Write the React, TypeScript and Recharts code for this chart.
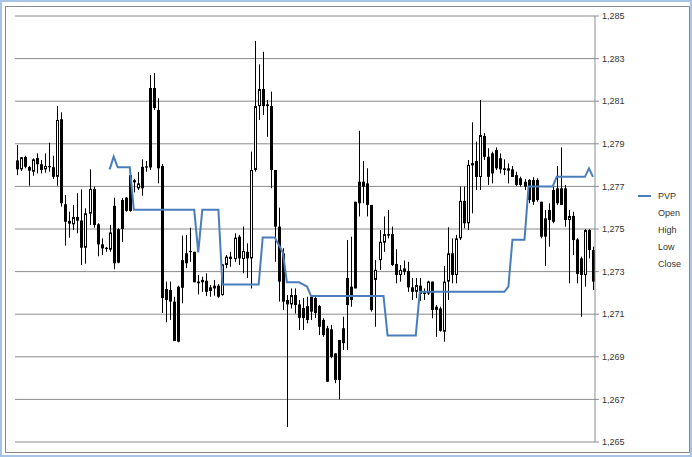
import React from "react";
import { ComposedChart, Bar, Line, XAxis, YAxis, CartesianGrid } from "recharts";

const openVals = [
  1.27822, 1.2778, 1.27838, 1.27791, 1.27769, 1.27833, 1.27804, 1.2778, 1.27796, 1.2779,
  1.27745, 1.28015, 1.27616, 1.27538, 1.27522, 1.27556, 1.2754, 1.27412, 1.27572, 1.27688,
  1.27522, 1.27428, 1.27412, 1.27403, 1.27609, 1.27499, 1.27636, 1.27647, 1.27753, 1.27729,
  1.27691, 1.27792, 1.27794, 1.28162, 1.28162, 1.28059, 1.27796, 1.27218, 1.27214, 1.27159,
  1.27229, 1.27354, 1.27386, 1.27392, 1.27393, 1.27253, 1.2725, 1.27257, 1.27226, 1.27221,
  1.27234, 1.2719, 1.27331, 1.27359, 1.27359, 1.27464, 1.27359, 1.27393, 1.27362, 1.27777,
  1.28077, 1.28157, 1.28085, 1.28077, 1.27777, 1.27511, 1.27386, 1.27167, 1.27146, 1.2719,
  1.27146, 1.27129, 1.27138, 1.27181, 1.27176, 1.27138, 1.27073, 1.27034, 1.27029, 1.26916,
  1.26979, 1.27034, 1.2727, 1.27229, 1.27628, 1.27722, 1.27722, 1.27714, 1.27613, 1.27261,
  1.27354, 1.27436, 1.27476, 1.27476, 1.27336, 1.27284, 1.27299, 1.27303, 1.27226, 1.27205,
  1.27234, 1.27202, 1.27197, 1.27253, 1.27135, 1.27127, 1.27018, 1.27253, 1.27386, 1.27284,
  1.27456, 1.27632, 1.27527, 1.27799, 1.27819, 1.27744, 1.27937, 1.27839, 1.27855, 1.27871,
  1.27832, 1.27785, 1.27785, 1.2778, 1.27753, 1.27738, 1.27722, 1.2773, 1.2773, 1.2773,
  1.27628, 1.2755, 1.27589, 1.27683, 1.27691, 1.27691, 1.27691, 1.27542, 1.27561, 1.27451,
  1.27362, 1.27284, 1.27495, 1.27401,
];

const highVals = [
  1.27894, 1.27838, 1.27844, 1.27796, 1.27832, 1.27855, 1.27824, 1.27855, 1.27905, 1.27844,
  1.28077, 1.28048, 1.2766, 1.27581, 1.27613, 1.27668, 1.27686, 1.27597, 1.2778, 1.27699,
  1.27527, 1.27456, 1.27416, 1.27519, 1.27647, 1.27503, 1.27645, 1.2765, 1.27753, 1.27735,
  1.27768, 1.27827, 1.27819, 1.28223, 1.28232, 1.28114, 1.27805, 1.27253, 1.27253, 1.27182,
  1.27234, 1.27469, 1.27472, 1.27506, 1.27393, 1.27284, 1.27276, 1.27292, 1.27237, 1.27261,
  1.27241, 1.27334, 1.27378, 1.27393, 1.2748, 1.27472, 1.27511, 1.27433, 1.27863, 1.28383,
  1.28273, 1.28332, 1.28106, 1.28145, 1.27777, 1.276, 1.2741, 1.2719, 1.27221, 1.27221,
  1.27167, 1.27176, 1.27182, 1.2719, 1.27185, 1.27143, 1.27081, 1.27045, 1.2705, 1.26916,
  1.26979, 1.27088, 1.27448, 1.27464, 1.27628, 1.27961, 1.27819, 1.27785, 1.27613, 1.27354,
  1.27495, 1.27559, 1.27589, 1.27511, 1.27405, 1.27331, 1.27352, 1.27346, 1.2727, 1.2727,
  1.2727, 1.27221, 1.27257, 1.27253, 1.27143, 1.27135, 1.27326, 1.27508, 1.27456, 1.27472,
  1.27699, 1.27699, 1.27824, 1.28001, 1.2791, 1.28106, 1.2795, 1.27879, 1.27863, 1.27883,
  1.27855, 1.27827, 1.27808, 1.27796, 1.27769, 1.27746, 1.27734, 1.27734, 1.27743, 1.27738,
  1.27628, 1.27589, 1.27621, 1.27699, 1.27796, 1.27883, 1.27707, 1.27589, 1.27581, 1.27456,
  1.2737, 1.27499, 1.27499, 1.27417,
];

const lowVals = [
  1.27753, 1.27772, 1.27785, 1.27703, 1.2775, 1.27761, 1.27761, 1.27764, 1.27769, 1.27735,
  1.27703, 1.27605, 1.27422, 1.27459, 1.27495, 1.2748, 1.27331, 1.27337, 1.27519, 1.27506,
  1.27372, 1.27378, 1.27393, 1.27393, 1.27311, 1.27339, 1.27439, 1.27581, 1.27581, 1.27672,
  1.27683, 1.27656, 1.27769, 1.27777, 1.28059, 1.27714, 1.27106, 1.27062, 1.27073, 1.26974,
  1.26968, 1.27151, 1.27316, 1.27346, 1.2725, 1.27193, 1.27205, 1.27185, 1.27182, 1.27187,
  1.27177, 1.27187, 1.27316, 1.27323, 1.27346, 1.27331, 1.27292, 1.2727, 1.27221, 1.27769,
  1.28012, 1.28035, 1.27933, 1.27691, 1.27346, 1.27159, 1.2712, 1.2657, 1.27127, 1.27103,
  1.27026, 1.27026, 1.27057, 1.27073, 1.27082, 1.27002, 1.26994, 1.26783, 1.26893, 1.26776,
  1.267, 1.26932, 1.26932, 1.27135, 1.27221, 1.27559, 1.27621, 1.27559, 1.27112, 1.27041,
  1.27308, 1.27393, 1.27456, 1.27326, 1.27245, 1.27253, 1.27284, 1.27205, 1.27167, 1.27175,
  1.27163, 1.27167, 1.2719, 1.27081, 1.26994, 1.27018, 1.26971, 1.27167, 1.27245, 1.27245,
  1.27448, 1.27503, 1.27495, 1.27574, 1.27683, 1.27683, 1.27824, 1.27707, 1.27714, 1.27777,
  1.27761, 1.27753, 1.27714, 1.27744, 1.27702, 1.27699, 1.27683, 1.27621, 1.27613, 1.27628,
  1.27456, 1.27326, 1.27417, 1.27527, 1.27613, 1.27613, 1.27511, 1.27245, 1.27378, 1.27245,
  1.27088, 1.27229, 1.27362, 1.27214,
];

const closeVals = [
  1.2778, 1.27837, 1.27792, 1.27774, 1.27827, 1.27804, 1.27777, 1.27796, 1.2779, 1.27745,
  1.28012, 1.27621, 1.27534, 1.27525, 1.27556, 1.27539, 1.27412, 1.27574, 1.27688, 1.27519,
  1.27428, 1.27409, 1.27406, 1.27484, 1.27339, 1.27342, 1.275, 1.27585, 1.27585, 1.27719,
  1.27714, 1.27691, 1.27788, 1.27789, 1.28068, 1.27785, 1.27176, 1.27167, 1.27159, 1.26974,
  1.26971, 1.27224, 1.27339, 1.27397, 1.2725, 1.27245, 1.27261, 1.27205, 1.27209, 1.27234,
  1.27182, 1.27334, 1.2737, 1.2737, 1.27459, 1.27362, 1.27397, 1.27362, 1.27777, 1.28077,
  1.28157, 1.28077, 1.28077, 1.27777, 1.27511, 1.27253, 1.27159, 1.27146, 1.2719, 1.27143,
  1.27083, 1.27082, 1.27073, 1.27112, 1.27106, 1.27041, 1.27002, 1.26783, 1.269, 1.26791,
  1.26791, 1.26964, 1.27143, 1.27167, 1.27221, 1.27621, 1.27699, 1.27613, 1.2712, 1.27308,
  1.2744, 1.27476, 1.27469, 1.27331, 1.27284, 1.27308, 1.27315, 1.27226, 1.27205, 1.27237,
  1.27195, 1.27195, 1.27253, 1.2712, 1.2712, 1.27022, 1.27253, 1.27386, 1.27284, 1.27456,
  1.27632, 1.27527, 1.27801, 1.27809, 1.27744, 1.27941, 1.27839, 1.27745, 1.27761, 1.27785,
  1.2778, 1.27777, 1.27774, 1.27744, 1.27707, 1.27707, 1.27699, 1.27636, 1.27628, 1.27636,
  1.27464, 1.27464, 1.27542, 1.27534, 1.27621, 1.27613, 1.27542, 1.27561, 1.27448, 1.27289,
  1.27284, 1.27495, 1.27401, 1.27253,
];

const pvpVals: (number | null)[] = [
  null, null, null, null, null, null, null, null, null, null,
  null, null, null, null, null, null, null, null, null, null,
  null, null, null, 1.2778, 1.2784, 1.2779, 1.2779, 1.2779, 1.2779, 1.2759,
  1.2759, 1.2759, 1.2759, 1.2759, 1.2759, 1.2759, 1.2759, 1.2759, 1.2759, 1.2759,
  1.2759, 1.2759, 1.2759, 1.2759, 1.2759, 1.2739, 1.2759, 1.2759, 1.2759, 1.2759,
  1.2759, 1.2724, 1.2724, 1.2724, 1.2724, 1.2724, 1.2724, 1.2724, 1.2724, 1.2724,
  1.2724, 1.2746, 1.2746, 1.2746, 1.2746, 1.27425, 1.2739, 1.2725, 1.2725, 1.2725,
  1.2725, 1.2724, 1.2723, 1.27185, 1.27185, 1.27185, 1.27185, 1.27185, 1.27185, 1.27185,
  1.27185, 1.27185, 1.27185, 1.27185, 1.27185, 1.27185, 1.27185, 1.27185, 1.27185, 1.27185,
  1.27185, 1.27185, 1.27, 1.27, 1.27, 1.27, 1.27, 1.27, 1.27, 1.27,
  1.27205, 1.27205, 1.27205, 1.27205, 1.27205, 1.27205, 1.27205, 1.27205, 1.27205, 1.27205,
  1.27205, 1.27205, 1.27205, 1.27205, 1.27205, 1.27205, 1.27205, 1.27205, 1.27205, 1.27205,
  1.27205, 1.27205, 1.2723, 1.2745, 1.2745, 1.2745, 1.2745, 1.277, 1.277, 1.277,
  1.277, 1.277, 1.277, 1.277, 1.27745, 1.27745, 1.27745, 1.27745, 1.27745, 1.27745,
  1.27745, 1.27745, 1.27785, 1.27745,
];

const yTicks = [1.265, 1.267, 1.269, 1.271, 1.273, 1.275, 1.277, 1.279, 1.281, 1.283, 1.285];
const legendItems = ["PVP", "Open", "High", "Low", "Close"];

const data = openVals.map((o, i) => ({
  idx: i,
  open: o,
  high: highVals[i],
  low: lowVals[i],
  close: closeVals[i],
  pvp: pvpVals[i],
}));

const Candle = (props: any) => {
  const { x, y, width, height, payload } = props;
  if (!payload || x == null || y == null) return null;
  const { open, close, high, low } = payload;
  const top = Math.min(y, y + height);
  const h = Math.abs(height);
  const toPx = (v: number) => (high === low ? top : top + ((high - v) / (high - low)) * h);
  const left = Math.round(x + width / 2 - 1.5);
  const yo = toPx(open);
  const yc = toPx(close);
  const bTop = Math.min(yo, yc);
  const bBot = Math.max(yo, yc);
  const up = close >= open;
  const bh = bBot - bTop;
  return (
    <g>
      <line x1={left + 1.5} x2={left + 1.5} y1={top} y2={top + h} stroke="#000" strokeWidth={1} />
      {up && bh > 2 ? (
        <rect x={left + 0.5} y={bTop + 0.5} width={2} height={bh - 1} fill="#fff" stroke="#000" strokeWidth={1} />
      ) : (
        <rect x={left} y={bTop} width={3} height={Math.max(bh, 1.2)} fill="#000" />
      )}
    </g>
  );
};

const fontFamily = "'Liberation Sans', Arial, sans-serif";

export default function App() {
  return (
    <div style={{ position: "absolute", left: 0, top: 0, width: 692, height: 457, background: "#fff" }}>
      <div
        style={{
          position: "absolute",
          left: 0,
          top: 0,
          width: 692,
          height: 457,
          boxSizing: "border-box",
          border: "2px solid #a7c3e6",
        }}
      />
      <div
        style={{
          position: "absolute",
          left: 5,
          top: 6,
          width: 685,
          height: 447,
          boxSizing: "border-box",
          border: "1px solid #8a8a8a",
        }}
      />
      <div style={{ position: "absolute", left: 0, top: 0 }}>
        <ComposedChart width={692} height={457} data={data} margin={{ top: 16, right: 37, bottom: 15, left: 15 }}>
          <CartesianGrid vertical={false} stroke="#8c8c8c" strokeWidth={1} />
          <XAxis dataKey="idx" type="category" hide height={0} />
          <YAxis
            orientation="right"
            width={60}
            domain={[1.265, 1.285]}
            ticks={yTicks}
            allowDataOverflow
            interval={0}
            tickFormatter={(v: number) => v.toFixed(3).replace(".", ",")}
            stroke="#8c8c8c"
            tickSize={4}
            tickMargin={3}
            tick={{ fill: "#333", fontSize: 9, fontFamily }}
          />
          <Bar
            dataKey={(d: any) => [d.low, d.high]}
            barSize={3}
            shape={<Candle />}
            isAnimationActive={false}
          />
          <Line
            dataKey="pvp"
            stroke="#4a7ebb"
            strokeWidth={2}
            dot={false}
            activeDot={false}
            connectNulls={false}
            isAnimationActive={false}
          />
        </ComposedChart>
      </div>
      <div style={{ position: "absolute", left: 638, top: 189, fontFamily, fontSize: 9, color: "#333" }}>
        {legendItems.map((name, i) => (
          <div key={name} style={{ position: "absolute", left: 0, top: i * 17, height: 14, width: 60, whiteSpace: "nowrap" }}>
            {i === 0 ? (
              <svg width={14} height={14} style={{ position: "absolute", left: 0, top: 0 }}>
                <line x1={0} x2={13} y1={7} y2={7} stroke="#4a7ebb" strokeWidth={2} />
              </svg>
            ) : null}
            <span style={{ position: "absolute", left: 20, top: 1, lineHeight: "12px" }}>{name}</span>
          </div>
        ))}
      </div>
    </div>
  );
}
